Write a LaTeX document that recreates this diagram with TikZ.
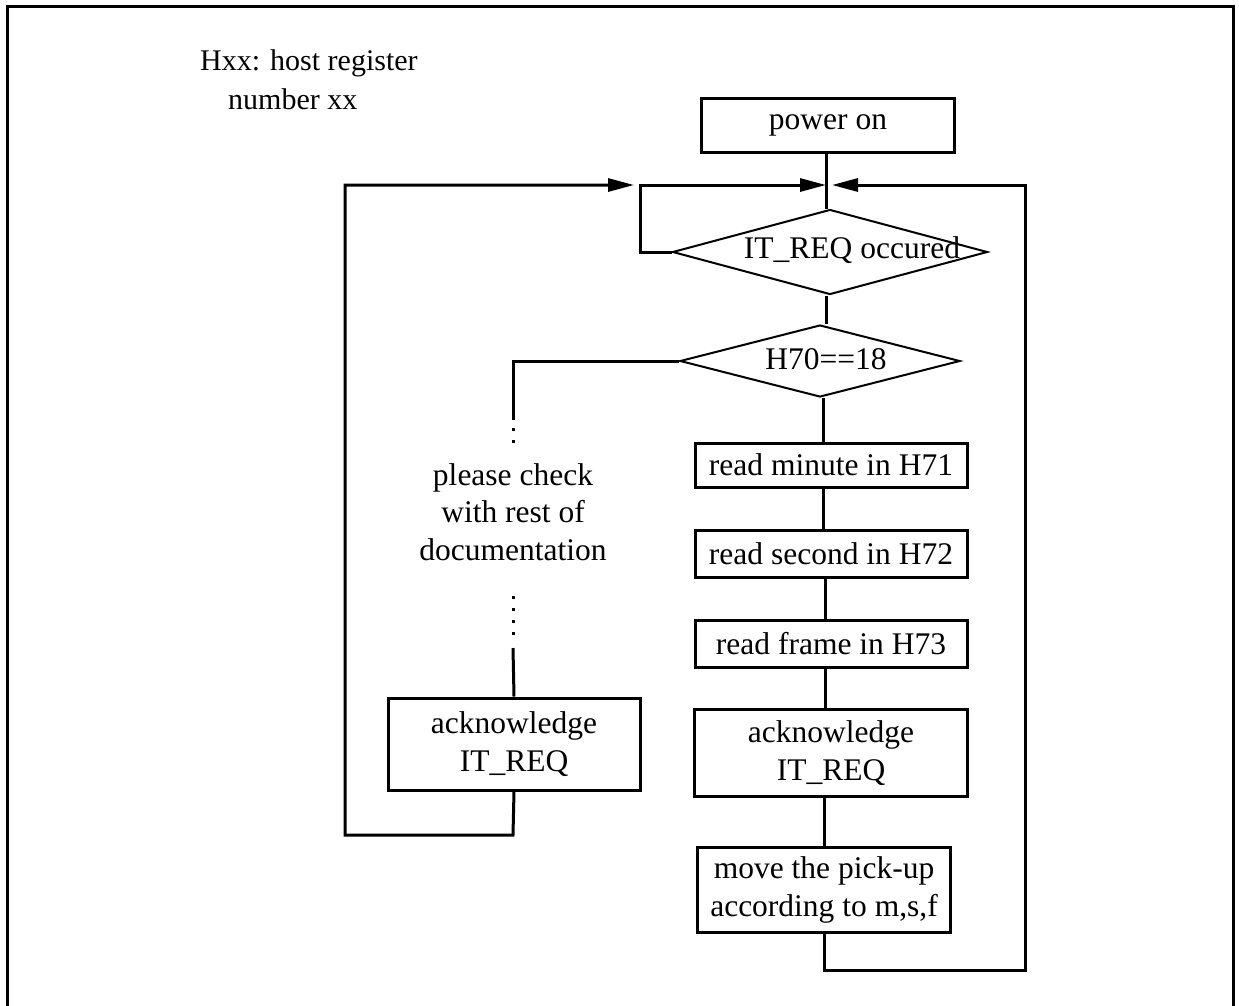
\documentclass[tikz,border=0pt]{standalone}
\usepackage{fontspec}
\setmainfont{Liberation Serif}
\usetikzlibrary{arrows.meta,shapes.geometric}
\begin{document}
\begin{tikzpicture}[x=1pt,y=-1pt,
  every node/.style={font=\fontsize{31.5}{37.5}\selectfont},
  boxnode/.style={draw,line width=3pt,inner sep=0pt,align=center},
  decnode/.style={draw,diamond,line width=2pt,inner sep=0pt},
  txt/.style={inner sep=0pt,align=center},
  conn/.style={line width=3pt},
  arr/.style={line width=3pt,-{Triangle[length=26pt,width=13pt]}},
  dots/.style={line width=3pt,dash pattern=on 3pt off 9pt}]
\useasboundingbox (0,0) rectangle (1239,1005);
% frame
\draw[line width=3pt] (7,1006) -- (7,6) -- (1233,6) -- (1233,1006);
% legend
\node[inner sep=0pt,align=left,anchor=west,font=\fontsize{30}{39}\selectfont] (legend) at (200,80) {Hxx: host register\\\hspace*{28pt}number xx};
% right column
\node[boxnode,minimum width=253pt,minimum height=54pt] (power) at (828,125) {power on};
\node[decnode,minimum width=315pt,minimum height=85pt] (d1) at (830,252) {};
\node[txt] (d1t) at (852,250) {IT\_REQ occured};
\node[decnode,minimum width=280pt,minimum height=72pt] (d2) at (820,361) {};
\node[txt] (d2t) at (826,359) {H70==18};
\node[boxnode,minimum width=272pt,minimum height=44pt] (b1) at (831,465) {read minute in H71};
\node[boxnode,minimum width=272pt,minimum height=47pt] (b2) at (831,554) {read second in H72};
\node[boxnode,minimum width=272pt,minimum height=47pt] (b3) at (831,644) {read frame in H73};
\node[boxnode,minimum width=273pt,minimum height=87pt] (b4) at (831,753) {acknowledge\\IT\_REQ};
\node[boxnode,minimum width=253pt,minimum height=85pt] (b5) at (824,890) {move the pick-up\\according to m,s,f};
% left column
\node[txt] (note) at (513,512) {please check\\with rest of\\documentation};
\node[boxnode,minimum width=252pt,minimum height=92pt] (lack) at (514,744) {acknowledge\\IT\_REQ};
% junction coordinates
\coordinate (jl) at (826,185);
\coordinate (jr) at (832,185);
\coordinate (s2) at (640,185);
\coordinate (s3) at (634,185);
\coordinate (r1) at (824,970);
\coordinate (r2) at (1025,970);
\coordinate (r3) at (1025,185);
\coordinate (l1) at (513,835);
\coordinate (l2) at (345,835);
\coordinate (l3) at (345,185);
\coordinate (v1) at (513,361);
\coordinate (v2) at (513,420);
\coordinate (v3) at (513,428);
\coordinate (v4) at (513,445);
\coordinate (v5) at (513,596);
\coordinate (v6) at (513,638);
\coordinate (v7) at (513,648);
% connectors
\draw[conn] (power.south -| jl) -- (d1.north -| jl);
\draw[conn] (d1.south -| jl) -- (d2.north -| jl);
\draw[conn] (d2.south -| b1.north) ++(-8,0) -- ([xshift=-8pt]b1.north);
\draw[conn] ([xshift=-8pt]b1.south) -- ([xshift=-8pt]b2.north);
\draw[conn] ([xshift=-6pt]b2.south) -- ([xshift=-6pt]b3.north);
\draw[conn] ([xshift=-6pt]b3.south) -- ([xshift=-6pt]b4.north);
\draw[conn] (b4.south -| b5.north) -- (b5.north);
\draw[arr] (b5.south) -- (r1) -- (r2) -- (r3) -- (jr);
\draw[arr] (d1.west) -| (s2) -- (jl);
\draw[arr] (lack.south) -- (l1) -- (l2) -- (l3) -- (s3);
\draw[conn] (d2.west) -- (v1) -- (v2);
\draw[dots] (v3) -- (v4);
\draw[dots] (v5) -- (v6);
\draw[conn] (v7) -- (lack.north);
\end{tikzpicture}
\end{document}
